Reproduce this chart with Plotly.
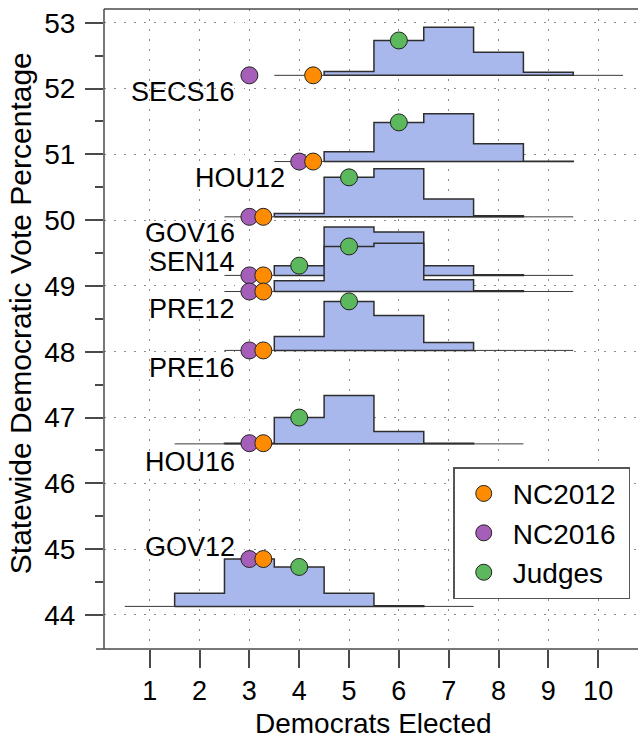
import plotly.graph_objects as go

# ---------------- data ----------------
elections = ["SECS16", "HOU12", "GOV16", "SEN14", "PRE12", "PRE16", "HOU16", "GOV12"]
statewide_vote = [52.20, 50.89, 50.05, 49.16, 48.915, 48.02, 46.60, 44.13]

hist_seats = [
    [5, 6, 7, 8, 9],
    [5, 6, 7, 8, 9],
    [4, 5, 6, 7, 8],
    [4, 5, 6, 7, 8],
    [4, 5, 6, 7, 8],
    [4, 5, 6, 7],
    [3, 4, 5, 6, 7],
    [2, 3, 4, 5, 6],
]
hist_heights = [
    [0.06, 0.53, 0.73, 0.35, 0.045],
    [0.15, 0.595, 0.727, 0.27, 0.006],
    [0.05, 0.60, 0.73, 0.27, 0.015],
    [0.148, 0.734, 0.658, 0.148, 0.01],
    [0.165, 0.685, 0.735, 0.178, 0.01],
    [0.21, 0.745, 0.53, 0.12],
    [0.01, 0.40, 0.735, 0.187, 0.01],
    [0.20, 0.72, 0.60, 0.20, 0.01],
]
range_min_seats = [4, 4, 3, 3, 3, 3, 2, 1]
range_max_seats = [10, 9, 9, 9, 9, 9, 8, 7]

nc2012_seats = [4, 4, 3, 3, 3, 3, 3, 3]
nc2016_seats = [3, 4, 3, 3, 3, 3, 3, 3]
judges_seats = [6, 6, 5, 4, 5, 5, 4, 4]

x_ticks = [1, 2, 3, 4, 5, 6, 7, 8, 9, 10]
y_ticks = [44, 45, 46, 47, 48, 49, 50, 51, 52, 53]
y_minor = [44.5, 45.5, 46.5, 47.5, 48.5, 49.5, 50.5, 51.5, 52.5]

# ---------------- style ----------------
FONT = "Liberation Sans, Arial, Helvetica, sans-serif"
FILL = "#a8b8ed"
EDGE = "#2e2e2e"
AXC = "#4a4a4a"
C12, C16, CJ = "#ff8c00", "#a65fb8", "#5cb85c"
NC2012_OFFSET = 0.28
label_dy = [-0.25, -0.25, -0.25, 0.20, -0.26, -0.26, -0.27, 0.90]
NBSP = "\u00a0"


def height_at(i, seat):
    for s, h in zip(hist_seats[i], hist_heights[i]):
        if s == seat:
            return h
    return 0.0


fig = go.Figure()

for i, name in enumerate(elections):
    base = statewide_vote[i]
    fig.add_trace(go.Scatter(
        x=[range_min_seats[i] - 0.5, range_max_seats[i] + 0.5], y=[base, base],
        mode="lines", line=dict(color="#3a3a3a", width=1),
        hoverinfo="skip", showlegend=False))
    xs = [hist_seats[i][0] - 0.5]
    ys = [base]
    for s, h in zip(hist_seats[i], hist_heights[i]):
        xs += [s - 0.5, s + 0.5]
        ys += [base + h, base + h]
    xs += [hist_seats[i][-1] + 0.5, hist_seats[i][0] - 0.5]
    ys += [base, base]
    fig.add_trace(go.Scatter(
        x=xs, y=ys, mode="lines", fill="toself", fillcolor=FILL,
        line=dict(color=EDGE, width=1.5), hoverinfo="skip", showlegend=False))

mk = dict(size=17, line=dict(color="#222", width=1))

fig.add_trace(go.Scatter(
    x=nc2016_seats,
    y=[statewide_vote[i] + height_at(i, nc2016_seats[i]) for i in range(len(elections))],
    mode="markers", name="NC2016" + NBSP, legendrank=2,
    marker=dict(color=C16, **mk)))
fig.add_trace(go.Scatter(
    x=[s + NC2012_OFFSET for s in nc2012_seats],
    y=[statewide_vote[i] + height_at(i, nc2012_seats[i]) for i in range(len(elections))],
    mode="markers", name="NC2012" + NBSP, legendrank=1,
    marker=dict(color=C12, **mk)))
fig.add_trace(go.Scatter(
    x=judges_seats,
    y=[statewide_vote[i] + height_at(i, judges_seats[i]) for i in range(len(elections))],
    mode="markers", name="Judges" + NBSP, legendrank=3,
    marker=dict(color=CJ, **mk)))

annotations = []
for i, name in enumerate(elections):
    annotations.append(dict(
        x=min(nc2012_seats[i], nc2016_seats[i]) - 0.25,
        y=statewide_vote[i] + label_dy[i],
        text=name, showarrow=False, xanchor="right", yanchor="middle",
        font=dict(size=27, color="black", family=FONT)))

annotations.append(dict(
    text="Democrats Elected", xref="paper", yref="paper", x=0.5056, y=-0.117,
    showarrow=False, xanchor="center", yanchor="middle",
    font=dict(size=28, color="black", family=FONT)))
annotations.append(dict(
    text="Statewide Democratic Vote Percentage", xref="paper", yref="paper",
    x=-0.157, y=0.525, textangle=-90, showarrow=False,
    xanchor="center", yanchor="middle",
    font=dict(size=30, color="black", family=FONT)))

PW = 534.0
shapes = [
    dict(type="line", xref="paper", yref="paper", x0=0, x1=0, y0=0, y1=1,
         line=dict(color=AXC, width=1.5)),
    dict(type="line", xref="paper", yref="paper", x0=0, x1=1, y0=1, y1=1,
         line=dict(color=AXC, width=1.5)),
    dict(type="line", xref="paper", yref="paper", x0=-8 / PW, x1=1, y0=0, y1=0,
         line=dict(color=AXC, width=1.5)),
]

grid = dict(showgrid=True, gridcolor="#8a8a8a", gridwidth=1, griddash="1.5px,8.5px")

fig.update_layout(
    width=638, height=741,
    margin=dict(l=104, r=0, t=9, b=92),
    paper_bgcolor="white", plot_bgcolor="white",
    font=dict(family=FONT, color="black", size=27),
    showlegend=True,
    legend=dict(x=0.654, y=0.284, xanchor="left", yanchor="top",
                bordercolor="#555", borderwidth=1.5, bgcolor="white",
                font=dict(size=28, family=FONT, color="black"),
                tracegroupgap=0, itemwidth=48),
    annotations=annotations,
    shapes=shapes,
    xaxis=dict(range=[0.082, 10.80], tickmode="array", tickvals=x_ticks,
               ticks="outside", ticklen=18, tickwidth=1.5, tickcolor=AXC,
               showline=False, zeroline=False,
               tickfont=dict(size=27, family=FONT, color="black"), **grid),
    yaxis=dict(range=[43.483, 53.208], tickmode="array", tickvals=y_ticks,
               ticks="outside", ticklen=18, tickwidth=1.5, tickcolor=AXC,
               showline=False, zeroline=False, ticklabelstandoff=4,
               minor=dict(tickmode="array", tickvals=y_minor, ticks="outside",
                          ticklen=8, tickwidth=1.5, tickcolor=AXC, showgrid=False),
               tickfont=dict(size=28, family=FONT, color="black"), **grid),
)

fig.write_html("out.html", config={"displayModeBar": False},
               post_script="document.body.style.margin='0';")
